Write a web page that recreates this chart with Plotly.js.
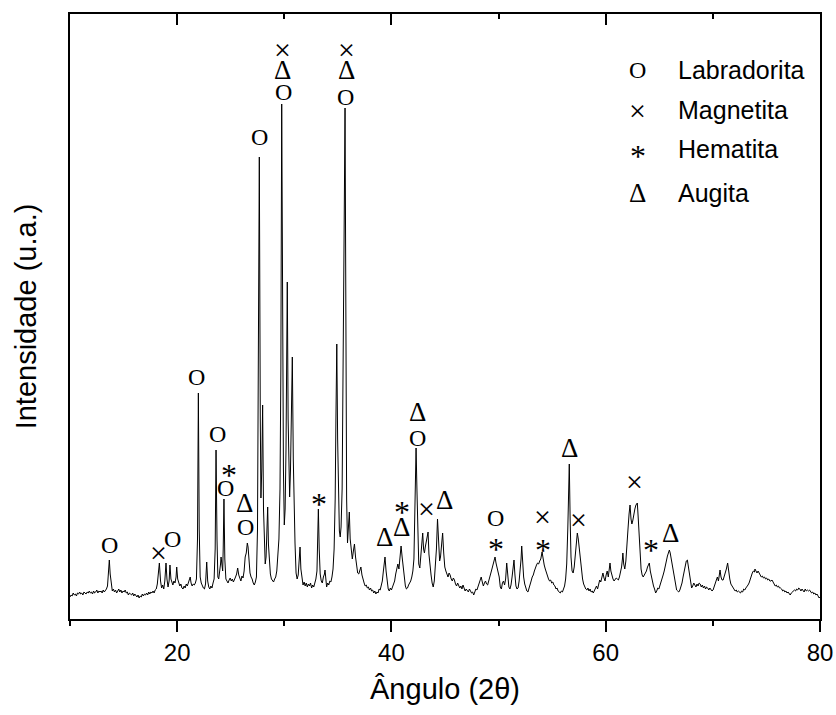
<!DOCTYPE html>
<html>
<head>
<meta charset="utf-8">
<script src="https://cdn.plot.ly/plotly-3.0.1.min.js"></script>
<style>html,body{margin:0;padding:0;background:#fff}#chart{width:836px;height:715px}</style>
</head>
<body>
<div id="chart"></div>
<script>
// XRD profile: [angle 2θ, intensity (a.u.)]
const seg10to20 = [[10.0,22],[10.1,24],[10.2,23],[10.3,26],[10.4,24],[10.5,25],[10.6,23],[10.7,26],[10.8,25],[10.9,27],[11.0,25],[11.1,26],[11.2,24],[11.3,27],[11.4,26],[11.5,25],[11.6,27],[11.7,26],[11.8,28],[11.9,26],[12.0,27],[12.1,25],[12.2,28],[12.3,26],[12.4,27],[12.5,29],[12.6,26],[12.7,28],[12.8,27],[12.9,28],[13.0,26],[13.1,29],[13.2,27],[13.3,28],[13.4,30],[13.5,33],[13.6,48],[13.67,59],[13.75,45],[13.85,32],[13.95,28],[14.05,30],[14.15,27],[14.25,29],[14.35,26],[14.45,28],[14.55,30],[14.65,27],[14.75,29],[14.85,26],[14.95,28],[15.05,27],[15.15,29],[15.25,26],[15.35,27],[15.45,24],[15.55,26],[15.65,25],[15.75,24],[15.85,26],[15.95,23],[16.05,25],[16.15,24],[16.25,22],[16.35,24],[16.45,21],[16.55,23],[16.65,22],[16.75,25],[16.85,23],[16.95,25],[17.05,24],[17.15,26],[17.25,24],[17.35,27],[17.45,25],[17.55,27],[17.65,26],[17.75,28],[17.85,26],[17.95,29],[18.05,30],[18.15,35],[18.25,45],[18.34,56],[18.45,38],[18.55,31],[18.65,34],[18.75,30],[18.85,38],[18.96,56],[19.05,40],[19.15,32],[19.25,38],[19.33,54],[19.42,40],[19.5,36],[19.6,34],[19.7,38],[19.8,36],[19.9,42],[19.96,52]];
const seg20to30 = [[20.05,40],[20.15,36],[20.25,33],[20.35,35],[20.45,31],[20.55,30],[20.65,33],[20.75,31],[20.85,35],[20.95,33],[21.05,36],[21.15,40],[21.22,42],[21.3,36],[21.4,33],[21.5,35],[21.6,34],[21.7,36],[21.8,40],[21.9,80],[21.98,226],[22.06,90],[22.15,42],[22.25,36],[22.35,33],[22.45,31],[22.55,30],[22.65,35],[22.76,57],[22.85,38],[22.95,32],[23.05,30],[23.15,33],[23.25,31],[23.35,36],[23.45,40],[23.55,70],[23.63,169],[23.72,80],[23.8,42],[23.88,40],[23.96,46],[24.05,55],[24.1,62],[24.17,50],[24.25,48],[24.3,70],[24.37,120],[24.45,60],[24.55,40],[24.65,38],[24.75,36],[24.85,39],[24.95,41],[25.05,38],[25.15,40],[25.25,37],[25.35,39],[25.45,42],[25.55,45],[25.65,51],[25.75,44],[25.85,40],[25.95,38],[26.05,43],[26.15,41],[26.25,48],[26.35,62],[26.45,66],[26.55,76],[26.62,72],[26.7,60],[26.8,46],[26.9,42],[27.0,40],[27.1,36],[27.2,34],[27.3,37],[27.4,42],[27.5,90],[27.58,220],[27.67,462],[27.76,200],[27.82,121],[27.9,150],[27.98,214],[28.06,110],[28.14,70],[28.22,55],[28.3,62],[28.38,85],[28.45,112],[28.52,75],[28.6,55],[28.7,45],[28.8,40],[28.9,38],[29.0,37],[29.1,40],[29.2,42],[29.3,48],[29.4,60],[29.5,80],[29.6,130],[29.68,250],[29.76,515],[29.84,300],[29.92,150]];
const seg30to40 = [[30.0,94],[30.08,110],[30.16,170],[30.28,337],[30.36,200],[30.44,130],[30.5,122],[30.58,150],[30.66,200],[30.75,262],[30.84,160],[30.92,100],[31.0,76],[31.1,46],[31.2,40],[31.3,44],[31.38,55],[31.47,72],[31.55,50],[31.65,38],[31.75,34],[31.85,37],[31.95,33],[32.05,36],[32.15,32],[32.25,35],[32.35,33],[32.45,36],[32.55,31],[32.65,34],[32.75,32],[32.85,36],[32.95,40],[33.05,48],[33.1,70],[33.18,110],[33.26,70],[33.35,45],[33.45,38],[33.55,36],[33.65,42],[33.75,45],[33.8,49],[33.87,40],[33.95,32],[34.05,36],[34.15,34],[34.25,38],[34.35,37],[34.45,42],[34.55,50],[34.65,70],[34.75,120],[34.82,200],[34.9,275],[34.98,180],[35.06,110],[35.14,88],[35.22,82],[35.3,92],[35.4,130],[35.5,230],[35.58,380],[35.67,511],[35.75,250],[35.82,120],[35.9,76],[35.98,90],[36.07,107],[36.15,80],[36.25,65],[36.35,60],[36.45,68],[36.55,75],[36.65,62],[36.75,50],[36.85,46],[36.95,45],[37.05,48],[37.15,52],[37.25,44],[37.35,38],[37.45,36],[37.55,33],[37.65,34],[37.75,31],[37.85,32],[37.95,29],[38.05,31],[38.15,28],[38.25,29],[38.35,26],[38.45,28],[38.55,25],[38.65,27],[38.75,26],[38.85,30],[38.95,29],[39.05,34],[39.15,38],[39.25,48],[39.35,60],[39.4,62],[39.5,48],[39.6,36],[39.7,30],[39.8,28],[39.9,31]];
const seg40to50 = [[40.0,29],[40.1,32],[40.2,35],[40.3,38],[40.4,45],[40.5,52],[40.6,55],[40.7,50],[40.8,62],[40.9,73],[41.0,62],[41.1,50],[41.2,40],[41.3,33],[41.4,30],[41.5,31],[41.6,34],[41.7,36],[41.8,38],[41.9,42],[42.0,48],[42.1,60],[42.2,110],[42.3,171],[42.38,130],[42.46,80],[42.55,55],[42.65,51],[42.75,65],[42.85,80],[42.92,86],[43.0,70],[43.08,66],[43.16,72],[43.25,78],[43.35,82],[43.42,87],[43.5,65],[43.6,52],[43.7,44],[43.8,36],[43.9,32],[44.0,38],[44.1,50],[44.2,70],[44.3,100],[44.4,75],[44.5,58],[44.58,62],[44.68,75],[44.78,86],[44.88,66],[44.98,52],[45.08,48],[45.18,44],[45.28,42],[45.38,46],[45.48,44],[45.58,40],[45.68,38],[45.78,41],[45.88,39],[45.98,35],[46.08,33],[46.18,36],[46.28,34],[46.38,31],[46.48,33],[46.58,30],[46.68,34],[46.78,31],[46.88,28],[46.98,30],[47.08,29],[47.18,27],[47.28,30],[47.38,28],[47.48,26],[47.58,27],[47.68,24],[47.78,27],[47.88,30],[47.98,29],[48.08,32],[48.18,35],[48.28,38],[48.38,42],[48.48,37],[48.58,33],[48.68,36],[48.78,38],[48.88,35],[48.98,34],[49.08,38],[49.18,44],[49.28,46],[49.38,50],[49.48,55],[49.58,58],[49.67,62],[49.76,56],[49.86,52],[49.96,48]];
const seg50to60 = [[50.06,42],[50.16,32],[50.26,30],[50.36,36],[50.46,38],[50.56,34],[50.66,40],[50.76,56],[50.86,40],[50.96,32],[51.06,30],[51.16,34],[51.26,42],[51.36,50],[51.44,59],[51.52,45],[51.62,33],[51.72,30],[51.82,31],[51.92,38],[52.02,48],[52.1,60],[52.16,73],[52.24,58],[52.34,42],[52.44,35],[52.54,30],[52.64,28],[52.74,27],[52.84,30],[52.94,34],[53.04,38],[53.14,42],[53.24,44],[53.34,48],[53.44,52],[53.54,54],[53.64,56],[53.74,55],[53.84,58],[53.94,60],[54.06,67],[54.16,58],[54.26,54],[54.36,50],[54.46,46],[54.56,44],[54.66,40],[54.76,38],[54.86,39],[54.96,36],[55.06,37],[55.16,34],[55.26,33],[55.36,30],[55.46,31],[55.56,28],[55.66,27],[55.76,26],[55.86,28],[55.96,27],[56.06,30],[56.16,33],[56.26,40],[56.36,55],[56.46,90],[56.55,140],[56.6,155],[56.68,100],[56.76,62],[56.86,48],[56.96,46],[57.06,52],[57.16,62],[57.26,75],[57.35,86],[57.44,80],[57.54,70],[57.64,55],[57.74,45],[57.84,40],[57.94,35],[58.04,32],[58.14,30],[58.24,29],[58.34,31],[58.44,28],[58.54,30],[58.64,27],[58.74,28],[58.84,26],[58.94,29],[59.04,31],[59.14,33],[59.24,30],[59.34,36],[59.44,39],[59.54,37],[59.64,42],[59.74,46],[59.84,41],[59.94,38]];
const seg60to70 = [[60.04,44],[60.14,48],[60.24,42],[60.34,50],[60.4,56],[60.48,48],[60.58,42],[60.68,40],[60.78,38],[60.88,39],[60.98,41],[61.08,40],[61.18,39],[61.28,42],[61.38,46],[61.48,52],[61.56,60],[61.6,66],[61.68,55],[61.78,50],[61.88,58],[61.98,70],[62.08,90],[62.18,105],[62.27,114],[62.36,100],[62.44,95],[62.52,98],[62.62,106],[62.72,110],[62.82,114],[62.95,116],[63.04,100],[63.12,80],[63.2,62],[63.3,50],[63.4,44],[63.5,42],[63.6,44],[63.7,46],[63.8,48],[63.9,52],[64.0,55],[64.07,56],[64.16,48],[64.26,42],[64.36,38],[64.46,33],[64.56,30],[64.66,26],[64.76,28],[64.86,31],[64.96,30],[65.06,33],[65.16,36],[65.26,40],[65.36,44],[65.46,48],[65.56,52],[65.66,58],[65.76,63],[65.86,67],[65.94,69],[66.02,66],[66.12,60],[66.22,52],[66.32,45],[66.42,38],[66.52,32],[66.62,29],[66.72,28],[66.82,27],[66.92,29],[67.02,32],[67.12,36],[67.22,42],[67.32,48],[67.42,54],[67.52,58],[67.62,59],[67.72,52],[67.82,42],[67.92,35],[68.02,31],[68.12,33],[68.22,36],[68.32,34],[68.42,32],[68.52,35],[68.62,33],[68.72,36],[68.82,35],[68.92,32],[69.02,34],[69.12,31],[69.22,33],[69.32,30],[69.42,32],[69.52,31],[69.62,29],[69.72,31],[69.82,30],[69.92,28]];
const seg70to80 = [[70.02,29],[70.12,32],[70.22,35],[70.32,38],[70.42,42],[70.52,38],[70.6,44],[70.67,49],[70.76,42],[70.86,39],[70.96,39],[71.06,42],[71.16,46],[71.26,50],[71.38,56],[71.48,46],[71.58,40],[71.68,35],[71.78,33],[71.88,31],[71.98,30],[72.08,28],[72.18,29],[72.28,27],[72.38,28],[72.48,27],[72.58,26],[72.68,28],[72.78,27],[72.88,30],[72.98,29],[73.08,31],[73.18,32],[73.28,34],[73.38,36],[73.48,40],[73.58,43],[73.68,46],[73.78,48],[73.88,47],[73.93,50],[74.02,48],[74.12,46],[74.22,48],[74.32,45],[74.42,44],[74.52,42],[74.62,43],[74.72,41],[74.82,42],[74.92,40],[75.02,41],[75.12,39],[75.22,40],[75.32,38],[75.42,38],[75.52,39],[75.62,36],[75.72,35],[75.82,33],[75.92,34],[76.02,32],[76.12,33],[76.22,31],[76.32,31],[76.42,30],[76.52,28],[76.62,29],[76.72,27],[76.82,28],[76.92,26],[77.02,27],[77.12,25],[77.22,24],[77.32,26],[77.42,27],[77.52,28],[77.62,29],[77.72,28],[77.82,30],[77.92,29],[78.02,31],[78.12,30],[78.22,28],[78.32,30],[78.42,29],[78.52,27],[78.62,30],[78.72,28],[78.82,29],[78.92,28],[79.02,29],[79.12,27],[79.22,26],[79.32,27],[79.42,25],[79.52,26],[79.62,24],[79.72,25],[79.82,22],[79.92,21],[80.0,22]];

// Phase marks placed over the peaks
const markSymbol    = ['O','×','O','O','O','*','O','Δ','O','O','×','Δ','O','×','Δ','O','*','Δ','*','Δ','Δ','O','×','Δ','O','*','×','*','Δ','×','×','*','Δ'];
const markAngle     = [13.67,18.24,19.58,21.85,23.78,24.84,24.53,26.24,26.36,27.73,29.85,29.85,29.91,35.82,35.82,35.67,33.24,39.34,40.96,40.96,42.42,42.42,43.29,44.91,49.73,49.73,54.12,54.12,56.6,57.48,62.67,64.23,66.07];
const markIntensity = [74,67,80,242,185,151,131,116,92,482,570,549,527,570,549,522,122,82,114,92,207,181,111,119,101,77,103,76,171,100,138,76,86];

// Legend
const legendSymbols = ['O','×','*','Δ'];
const legendNames   = ['Labradorita','Magnetita','Hematita','Augita'];

const xTickVals = [20,40,60,80];
const xTickText = ['20','40','60','80'];

const profile = [].concat(seg10to20, seg20to30, seg30to40, seg40to50, seg50to60, seg60to70, seg70to80);
const angle = profile.map(p => p[0]);
const intensity = profile.map(p => p[1]);

const serif = 'Liberation Serif, Times New Roman, serif';
const symFont = {
  'O': {family:serif, size:24},
  'Δ': {family:serif, size:27},
  '×': {family:serif, size:30},
  '*': {family:serif, size:32}
};
const symShift = {'O':0,'Δ':0,'×':0,'*':-7};

const annotations = [];
markSymbol.forEach((s,i) => {
  annotations.push({
    x: markAngle[i], y: markIntensity[i], xref:'x', yref:'y', text: s, showarrow:false,
    xanchor:'center', yanchor:'middle',
    font: Object.assign({color:'#000'}, symFont[s]), yshift: symShift[s]
  });
});
const legY = [0.907, 0.841, 0.777, 0.704];
legendSymbols.forEach((s,i) => {
  annotations.push({x:0.757, y:legY[i], xref:'paper', yref:'paper', text:s, showarrow:false,
    xanchor:'center', yanchor:'middle',
    font: Object.assign({color:'#000'}, symFont[s]), yshift: symShift[s]});
  annotations.push({x:0.808, y:legY[i], xref:'paper', yref:'paper', text:legendNames[i], showarrow:false,
    xanchor:'left', yanchor:'middle',
    font:{family:'Liberation Sans, Arial, sans-serif', size:25, color:'#000'}});
});

const traces = [
  {x: angle, y: intensity, type:'scatter', mode:'lines', line:{color:'#000', width:1}, hoverinfo:'skip', showlegend:false},
  {x: [], y: [], xaxis:'x2', type:'scatter', mode:'lines', showlegend:false}
];

const layout = {
  width: 836, height: 715,
  margin: {l:70, r:16, t:14, b:96},
  paper_bgcolor:'#fff', plot_bgcolor:'#fff',
  showlegend:false,
  font:{family:'Liberation Sans, Arial, sans-serif', color:'#000'},
  xaxis: {
    range:[10,80], showgrid:false, zeroline:false,
    showline:true, linecolor:'#000', linewidth:2, mirror:true,
    ticks:'outside', ticklen:11, tickwidth:2, tickcolor:'#000',
    tickvals:xTickVals, ticktext:xTickText,
    tickfont:{size:24, family:'Liberation Sans, Arial, sans-serif'},
    minor:{tickvals:[10,30,50,70], ticks:'outside', ticklen:5, tickwidth:2, tickcolor:'#000'},
    title:{text:'Ângulo (2θ)', font:{size:29, family:'Liberation Sans, Arial, sans-serif'}, standoff:14}
  },
  xaxis2: {
    overlaying:'x', side:'top', range:[10,80], showgrid:false, zeroline:false, showline:false,
    ticks:'inside', ticklen:11, tickwidth:2, tickcolor:'#000',
    tickvals:xTickVals, showticklabels:false,
    minor:{tickvals:[10,30,50,70], ticks:'inside', ticklen:5, tickwidth:2, tickcolor:'#000'}
  },
  yaxis: {
    range:[0,605], showgrid:false, zeroline:false,
    showline:true, linecolor:'#000', linewidth:2, mirror:true,
    ticks:'', showticklabels:false,
    title:{text:'Intensidade (u.a.)', font:{size:29, family:'Liberation Sans, Arial, sans-serif'}, standoff:23}
  },
  annotations: annotations
};

Plotly.newPlot('chart', traces, layout, {staticPlot:true, displayModeBar:false});
</script>
</body>
</html>
